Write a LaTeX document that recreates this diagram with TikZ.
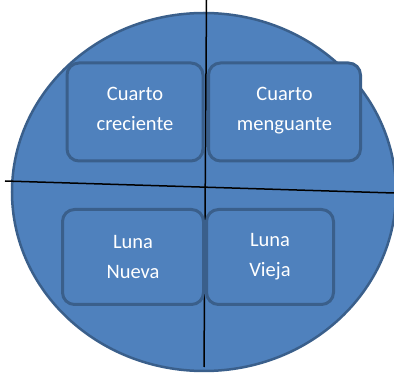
\documentclass[tikz,border=0pt]{standalone}
\usepackage{fontspec}
\setmainfont{Carlito}
\usetikzlibrary{shapes.geometric}

\definecolor{moonblue}{HTML}{4F81BD}
\definecolor{moonedge}{HTML}{3A5F8B}

\tikzset{
  phasebox/.style={draw=moonedge, fill=moonblue, line width=3pt, rounded corners=12pt,
    text=white, align=center, font=\fontsize{20.5}{30}\selectfont, inner sep=0pt},
  axisline/.style={black, line width=1.5pt}
}

\begin{document}
\begin{tikzpicture}[x=1pt, y=-1pt]
      \useasboundingbox (0,0) rectangle (394,374);
      \node[ellipse, draw=moonedge, fill=moonblue, line width=2.5pt,
            minimum width=384pt, minimum height=358pt] (moon) at (204,192) {};
      \coordinate (top) at (206.5,0);
      \coordinate (bottom) at (204,367);
      \coordinate (left) at (5,181);
      \coordinate (right) at (394,193);
      \draw[axisline] (top) -- (bottom);
      \draw[axisline] (left) -- (right);
      \node[phasebox, text depth=7pt, minimum width=136pt, minimum height=98pt] (creciente) at (135,112) {Cuarto\\creciente};
      \node[phasebox, text depth=7pt, minimum width=152pt, minimum height=98pt] (menguante) at (284.5,112) {Cuarto\\menguante};
      \node[phasebox, minimum width=141pt, minimum height=95pt] (nueva) at (133,257) {Luna\\Nueva};
      \node[phasebox, minimum width=127pt, minimum height=95pt] (vieja) at (270,257) {Luna\\Vieja};
    \end{tikzpicture}
\end{document}
